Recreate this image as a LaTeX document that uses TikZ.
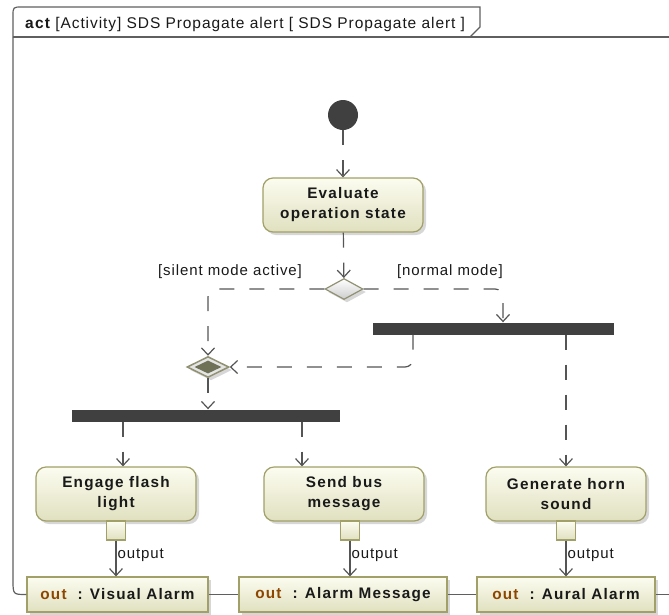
\documentclass[tikz,border=0pt]{standalone}
\usepackage{fontspec}
\setmainfont{Liberation Sans}
\newfontfamily\diafont{Liberation Sans}[LetterSpace=6]
\newfontfamily\diabold{Liberation Sans}[LetterSpace=8]
\usetikzlibrary{arrows.meta,shapes.geometric,shadows}

\definecolor{flowgray}{RGB}{85,85,85}
\definecolor{framegray}{RGB}{95,95,95}
\definecolor{actborder}{RGB}{160,160,104}
\definecolor{acttop}{RGB}{252,252,240}
\definecolor{actbot}{RGB}{224,224,192}
\definecolor{bardark}{RGB}{64,64,64}
\definecolor{decborder}{RGB}{145,145,115}
\definecolor{mergedark}{RGB}{112,114,88}
\definecolor{outbrown}{RGB}{140,70,0}

\newcommand{\outkw}{\textcolor{outbrown}{out}}

\tikzset{
  boxshadow/.style={drop shadow={shadow xshift=3pt, shadow yshift=-3pt, fill=black!35, opacity=0.45}},
  actbox/.style={draw=actborder, line width=1.2pt, rounded corners=10pt,
    top color=acttop, bottom color=actbot, boxshadow,
    minimum width=160pt, minimum height=54pt, align=center, text=black!90,
    font=\diabold\bfseries\fontsize{15.3}{20}\selectfont},
  outobj/.style={draw=actborder, line width=1.2pt, top color=acttop, bottom color=actbot,
    boxshadow, minimum height=35pt, inner sep=0pt, text=black!90,
    font=\diabold\bfseries\fontsize{15.3}{18}\selectfont},
  outpin/.style={draw=actborder, line width=1.2pt, top color=acttop, bottom color=actbot,
    minimum width=19pt, minimum height=19pt, inner sep=0pt},
  initnode/.style={circle, fill=bardark, minimum size=30pt, inner sep=0pt},
  forkbar/.style={rectangle, fill=bardark, minimum height=12pt, inner sep=0pt},
  decnode/.style={diamond, draw=decborder, line width=1.2pt, top color=white, bottom color=black!20,
    boxshadow, minimum width=38pt, minimum height=21pt, inner sep=0pt},
  mergenode/.style={diamond, draw=decborder, line width=1.5pt, fill=black!10,
    boxshadow, minimum width=42pt, minimum height=21pt, inner sep=0pt},
  mergedot/.style={diamond, fill=mergedark, minimum width=27pt, minimum height=13pt, inner sep=0pt},
  ctrlflow/.style={draw=flowgray, line width=1.2pt, dash pattern=on 15pt off 15pt,
    -{Straight Barb[length=7pt, width=13pt]}},
  objflow/.style={draw=flowgray, line width=1.2pt, -{Straight Barb[length=7pt, width=13pt]}},
  frameline/.style={draw=framegray, line width=1.2pt},
  lbl/.style={font=\diafont\fontsize{15}{18}\selectfont, text=black!90, inner sep=1pt}
}

\begin{document}
\begin{tikzpicture}[x=1pt, y=-1pt]
  \useasboundingbox (0,0) rectangle (669,614);

  % frame with name tab
  \draw[frameline] (13,37) -- (13,16) .. controls (13,7) .. (22,7) -- (480,7) -- (480,27) -- (470,37);
  \draw[frameline] (13,37) -- (669,37);
  \node[lbl, anchor=base west, font=\diafont\fontsize{15.5}{18}\selectfont] (title) at (24,28) {{\diabold\bfseries act} [Activity] SDS Propagate alert [ SDS Propagate alert ]};

  % control nodes
  \node[initnode] (init) at (343,115) {};
  \node[actbox] (eval) at (343,205) {Evaluate\\operation state};
  \node[decnode] (dec) at (344,289) {};
  \node[mergenode] (merge) at (208,367) {};
  \node[mergedot] (mergein) at (merge) {};
  \node[forkbar, minimum width=241pt] (fork1) at (493.5,328.5) {};
  \node[forkbar, minimum width=268pt] (fork2) at (206,415.5) {};

  % actions
  \node[actbox] (flash) at (116,494) {Engage flash\\light};
  \node[actbox] (bus) at (344,494) {Send bus\\message};
  \node[actbox] (horn) at (566,494) {Generate horn\\sound};

  % output pins
  \node[outpin] (pinflash) at (116,530.5) {};
  \node[outpin] (pinbus) at (350,530.5) {};
  \node[outpin] (pinhorn) at (566,530.5) {};

  % output objects on the frame
  \node[outobj, minimum width=181pt] (visual) at (117.5,594.5) {\outkw\ \ : Visual Alarm};
  \node[outobj, minimum width=208pt] (message) at (343,594.5) {\outkw\ \ : Alarm Message};
  \node[outobj, minimum width=178pt] (aural) at (566,594.5) {\outkw\ \ : Aural Alarm};
  \coordinate (frameend) at (669,594.5);

  % guards
  \node[lbl] (lblsilent) at (230,272) {[silent mode active]};
  \node[lbl] (lblnormal) at (450,272) {[normal mode]};

  % control flows
  \draw[ctrlflow] (init) -- (eval);
  \draw[ctrlflow] (eval) -- (dec);
  \draw[ctrlflow, rounded corners=8pt] (dec.west) -| (merge.north);
  \draw[ctrlflow, rounded corners=8pt] (dec.east) -| ([xshift=9.5pt]fork1.north);
  \draw[ctrlflow, rounded corners=8pt] ([xshift=-80.5pt]fork1.south) |- (merge.east);
  \draw[ctrlflow] (fork1.south -| horn.north) -- (horn.north);
  \draw[ctrlflow] (merge.south) -- (merge.south |- fork2.north);
  \draw[ctrlflow] ([xshift=7pt]flash.north |- fork2.south) -- ([xshift=7pt]flash.north);
  \draw[ctrlflow] ([xshift=-42pt]bus.north |- fork2.south) -- ([xshift=-42pt]bus.north);

  % object flows
  \draw[objflow] (pinflash.south) -- (pinflash.south |- visual.north) node[lbl, pos=.4, right] {output};
  \draw[objflow] (pinbus.south) -- (pinbus.south |- message.north) node[lbl, pos=.4, right] {output};
  \draw[objflow] (pinhorn.south) -- (pinhorn.south |- aural.north) node[lbl, pos=.4, right] {output};

  % frame edge through the outputs
  \draw[frameline] (13,37) -- (13,580) .. controls (13,594.5) .. (visual.west);
  \draw[frameline] (visual) -- (message);
  \draw[frameline] (message) -- (aural);
  \draw[frameline] (aural) -- (frameend);
\end{tikzpicture}
\end{document}
